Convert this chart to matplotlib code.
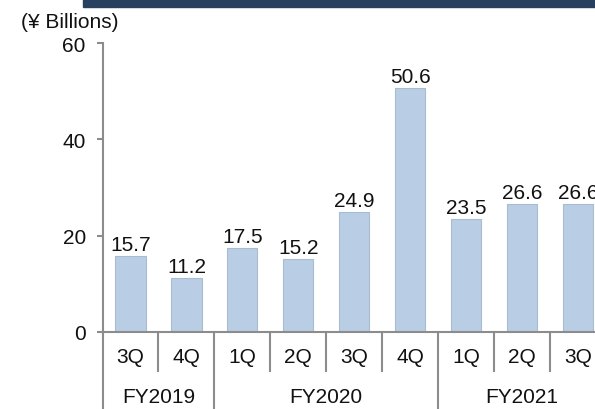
import matplotlib
matplotlib.use("Agg")
import matplotlib.pyplot as plt
from matplotlib.patches import Rectangle

plt.rcParams['font.family'] = ['Liberation Sans', 'DejaVu Sans']

quarters = ["3Q", "4Q", "1Q", "2Q", "3Q", "4Q", "1Q", "2Q", "3Q"]
years = ["FY2019", "FY2020", "FY2021"]
year_counts = [2, 4, 3]
values = [15.7, 11.2, 17.5, 15.2, 24.9, 50.6, 23.5, 26.6, 26.6]
yticks = [0, 20, 40, 60]
unit_label = "(¥ Billions)"

W, H = 595, 410
fig = plt.figure(figsize=(W / 100, H / 100), dpi=100)

ax_left, ax_right = 102.5, 606
ax_bottom, ax_top = 77, 366
ax = fig.add_axes([ax_left / W, ax_bottom / H, (ax_right - ax_left) / W, (ax_top - ax_bottom) / H])

bar_color = '#b9cde5'
axis_color = '#8c8c8c'
txt_color = '#111111'
fs = 15
x = list(range(len(values)))
ax.bar(x, values, width=0.54, color=bar_color, edgecolor='#a9bbd0', linewidth=0.8, zorder=2)
for xi, v in zip(x, values):
    ax.annotate(f"{v:.1f}", (xi, v), xytext=(0, 1.5), textcoords='offset points',
                ha='center', va='bottom', fontsize=fs, color=txt_color, clip_on=False)

ax.set_xlim(-0.5, len(values) - 0.5)
ax.set_ylim(0, 60)
ax.set_yticks(yticks)
ax.tick_params(axis='y', direction='out', length=4, width=1.5, color=axis_color,
               labelsize=fs, pad=8, labelcolor=txt_color)
ax.set_xticks([])
for s in ['top', 'right']:
    ax.spines[s].set_visible(False)
for s in ['left', 'bottom']:
    ax.spines[s].set_color(axis_color)
    ax.spines[s].set_linewidth(1.5)
ax.spines['left'].set_bounds(0, 60)

axh = ax_top - ax_bottom
tr = ax.get_xaxis_transform()
# quarter labels and separators
for i, q in enumerate(quarters):
    ax.text(i, -25 / axh, q, transform=tr, ha='center', va='center', fontsize=fs, color=txt_color)
sep_q = -38.5 / axh
bounds = [-0.5]
c = -0.5
for n in year_counts:
    c += n
    bounds.append(c)
group_edges = set(bounds)
for k in range(len(values) + 1):
    xb = k - 0.5
    if xb in group_edges:
        ax.plot([xb, xb], [0, -ax_bottom / axh - 0.05], transform=tr, color=axis_color,
                lw=1.5, clip_on=False, zorder=3)
    else:
        ax.plot([xb, xb], [0, sep_q], transform=tr, color=axis_color,
                lw=1.5, clip_on=False, zorder=3)
# year labels
for j, yl in enumerate(years):
    mid = (bounds[j] + bounds[j + 1]) / 2
    ax.text(mid, -65 / axh, yl, transform=tr, ha='center', va='center', fontsize=fs, color=txt_color)

# top band
fig.patches.append(Rectangle((83 / W, (H - 7.5) / H), 1 - 83 / W, 7.5 / H,
                             transform=fig.transFigure, color='#27405f', zorder=5))
fig.text(21 / W, (H - 22) / H, unit_label, ha='left', va='center', fontsize=fs, color=txt_color)

fig.savefig("out.png", dpi=100)
